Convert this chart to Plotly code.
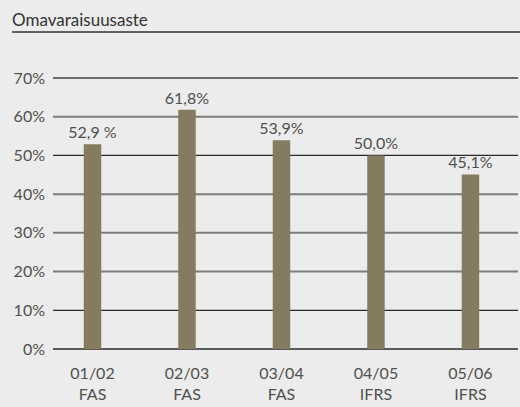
import plotly.graph_objects as go

categories = ["01/02", "02/03", "03/04", "04/05", "05/06"]
standards = ["FAS", "FAS", "FAS", "IFRS", "IFRS"]
values = [52.9, 61.8, 53.9, 50.0, 45.1]
value_labels = ["52,9 %", "61,8%", "53,9%", "50,0%", "45,1%"]
y_ticks = [0, 10, 20, 30, 40, 50, 60, 70]
y_tick_labels = ["0%", "10%", "20%", "30%", "40%", "50%", "60%", "70%"]
title_text = "Omavaraisuusaste"

BG = "#ebeceb"
BAR = "#857c60"
TXT = "#505050"
FONT = "Lato"

grid_style = {0: ("#2a2a2a", 1.3), 10: ("#2a2a2a", 1.3), 20: ("#7c7c7c", 2),
              30: ("#7c7c7c", 2), 40: ("#7c7c7c", 2), 50: ("#2a2a2a", 1.3),
              60: ("#7c7c7c", 2), 70: ("#6a6a6a", 2)}

x_idx = list(range(len(categories)))
tick_text = [f"{c}<br>{s}" for c, s in zip(categories, standards)]

fig = go.Figure(go.Bar(
    x=x_idx, y=values, width=0.185,
    marker=dict(color=BAR, line=dict(width=0)),
    text=value_labels, textposition="outside", cliponaxis=False,
    constraintext="none",
    textfont=dict(family=FONT, size=16, color=TXT),
    hoverinfo="skip",
))

shapes = []
for t in y_ticks:
    col, w = grid_style[t]
    shapes.append(dict(type="line", xref="paper", yref="y", x0=0, x1=1, y0=t, y1=t,
                       line=dict(color=col, width=w), layer="below"))
# title underline
shapes.append(dict(type="line", xref="paper", yref="paper", x0=-0.0882, x1=1.01,
                   y0=1.0906, y1=1.0906, line=dict(color="#333333", width=1.5)))

fig.update_layout(
    width=520, height=407,
    margin=dict(l=53, r=2, t=59, b=50),
    paper_bgcolor=BG, plot_bgcolor=BG,
    showlegend=False,
    shapes=shapes,
    font=dict(family=FONT, size=16, color=TXT),
    title=dict(text=title_text, x=12/520, xanchor="left", xref="container",
               y=1 - 20/407, yanchor="middle",
               font=dict(family=FONT, size=17, color="#333333")),
    xaxis=dict(range=[-0.418, 4.503], tickvals=x_idx, ticktext=tick_text,
               showgrid=False, zeroline=False, showline=False, ticks="",
               ticklabelstandoff=5,
               tickfont=dict(family=FONT, size=16, color=TXT),
               fixedrange=True),
    yaxis=dict(range=[-2.07, 74.91], tickvals=y_ticks, ticktext=y_tick_labels,
               showgrid=False, zeroline=False, showline=False, ticks="",
               ticklabelstandoff=7,
               tickfont=dict(family=FONT, size=16, color=TXT),
               fixedrange=True),
)

fig.write_html("out.html", config={"displayModeBar": False},
               post_script="document.body.style.margin='0';document.body.style.background='#ebeceb';")
